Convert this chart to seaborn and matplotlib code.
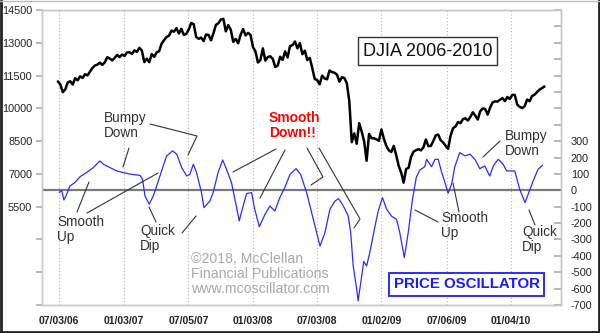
import matplotlib
matplotlib.use("Agg")
import matplotlib.pyplot as plt
import seaborn as sns
import pandas as pd
from matplotlib.lines import Line2D

# ---------------- data ----------------
# DJIA weekly closes, starting 2006-06-30, one value per week
djia_start = "2006-06-30"
djia = [
    11230,
    11090, 10739, 10868, 11185, 11240, 11088, 11381, 11284, 11464, 11392, 11560, 11508, 11679,
    11850, 11960, 12002, 12090, 11986, 12108, 12342, 12280, 12194, 12307, 12445, 12343, 12463,
    # 2007
    12398, 12556, 12565, 12487, 12653, 12580, 12767, 12647, 12114, 12276, 12110, 12481, 12354,
    12560, 12612, 12961, 13120, 13264, 13326, 13556, 13507, 13668, 13424, 13639, 13360, 13408,
    13611, 13907, 13851, 13265, 13182, 13239, 13079, 13379, 13358, 13113, 13442, 13820, 13896,
    14066, 14093, 13522, 13807, 13595, 13042, 13176, 12980, 13371, 13625, 13339, 13450, 13365,
    # 2008
    12800, 12606, 12099, 12207, 12743, 12183, 12348, 12381, 12266, 11894, 11951, 12361, 12216,
    12609, 12325, 12849, 12891, 13058, 12745, 12986, 12480, 12638, 12209, 12307, 11843, 11346,
    11288, 11100, 11496, 11370, 11326, 11734, 11659, 11628, 11543, 11220, 11421, 11388, 11143,
    10325, 8451, 8852, 8378, 9325, 8943, 8497, 7600, 8829, 8635, 8629, 8579, 8515,
    # 2009
    9034, 8599, 8281, 8077, 8001, 8280, 7850, 7366, 7062, 6600, 7224, 7279, 7776,
    8018, 8083, 8131, 8076, 8212, 8575, 8268, 8277, 8500, 8763, 8799, 8539, 8438,
    8280, 8146, 8743, 9093, 9171, 9370, 9321, 9505, 9544, 9441, 9605, 9820, 9665,
    9487, 9864, 9995, 9972, 9712, 10023, 10270, 10318, 10309, 10388, 10471, 10329, 10520,
    # 2010
    10428, 10618, 10609, 10173, 10067, 10012, 10099, 10402, 10325, 10566, 10625, 10742, 10851,
    10927, 10997,
]

osc_dates = [
    "2006-07-04", "2006-07-11", "2006-07-17", "2006-07-25", "2006-08-03", "2006-08-17",
    "2006-09-01", "2006-09-19", "2006-10-08", "2006-10-27", "2006-11-06", "2006-11-25",
    "2006-12-14", "2007-01-01", "2007-01-25", "2007-02-18", "2007-02-25", "2007-03-04",
    "2007-03-16", "2007-03-27", "2007-04-06", "2007-04-20", "2007-05-04", "2007-05-21",
    "2007-06-02", "2007-06-16", "2007-06-30", "2007-07-09", "2007-07-19", "2007-07-28",
    "2007-08-11", "2007-08-18", "2007-09-04", "2007-09-13", "2007-09-27", "2007-10-10",
    "2007-10-21", "2007-11-04", "2007-11-14", "2007-11-26", "2007-12-07", "2007-12-17",
    "2007-12-31", "2008-01-09", "2008-01-22", "2008-02-07", "2008-02-21", "2008-03-06",
    "2008-03-20", "2008-04-03", "2008-04-18", "2008-05-05", "2008-05-18", "2008-06-04",
    "2008-06-23", "2008-07-12", "2008-07-26", "2008-08-09", "2008-08-23", "2008-09-02",
    "2008-09-11", "2008-09-21", "2008-09-30", "2008-10-07", "2008-10-14", "2008-10-24",
    "2008-10-28", "2008-11-07", "2008-11-13", "2008-11-21", "2008-11-30", "2008-12-15",
    "2008-12-24", "2009-01-05", "2009-01-17", "2009-01-31", "2009-02-14", "2009-02-23",
    "2009-03-08", "2009-03-19", "2009-03-31", "2009-04-11", "2009-04-21", "2009-05-05",
    "2009-05-10", "2009-05-24", "2009-06-03", "2009-06-12", "2009-06-22", "2009-07-01",
    "2009-07-10", "2009-07-20", "2009-07-29", "2009-08-12", "2009-08-27", "2009-09-10",
    "2009-09-24", "2009-10-08", "2009-10-22", "2009-11-05", "2009-11-15", "2009-11-29",
    "2009-12-13", "2009-12-23", "2010-01-06", "2010-01-15", "2010-01-29", "2010-02-13",
    "2010-02-22", "2010-03-08", "2010-03-22", "2010-04-04",
]
osc = [
    -14, -2, -59, -25, 26, 47,
    83, 108, 138, 179, 159, 138,
    118, 108, 97, 91, 67, -36,
    -85, -36, 26, 118, 209, 240,
    220, 138, 87, 97, 159, 108,
    -14, -106, -65, -14, 108, 185,
    128, 47, -57, -187, -96, -20,
    -14, -116, -222, -147, -96, -127,
    -45, 16, 97, 132, 97, -14,
    -177, -340, -258, -116, -67, -51,
    -77, -116, -159, -258, -462, -604,
    -675, -525, -434, -462, -380, -217,
    -126, -45, -116, -159, -177, -258,
    -411, -258, -55, 80, 124, 144,
    189, 144, 189, 189, 108, 47,
    -18, 37, 144, 230, 210, 220,
    189, 132, 148, 87, 148, 189,
    159, 118, 118, 118, 6, -75,
    -24, 57, 128, 153,
]

tick_dates = ["2006-07-03", "2007-01-03", "2007-07-05", "2008-01-03",
              "2008-07-03", "2009-01-02", "2009-07-06", "2010-01-04"]
tick_labels = ["07/03/06", "01/03/07", "07/05/07", "01/03/08",
               "07/03/08", "01/02/09", "07/06/09", "01/04/10"]

djia_ticks = [1000, 2500, 4000, 5500, 7000, 8500, 10000, 11500, 13000, 14500]
djia_tick_labels = ["", "", "", "5500", "7000", "8500", "10000", "11500", "13000", "14500"]
osc_ticks = [-700, -600, -500, -400, -300, -200, -100, 0, 100, 200, 300,
             400, 500, 600, 700, 800, 900, 1000, 1100]
osc_tick_labels = ["-700", "-600", "-500", "-400", "-300", "-200", "-100", "0",
                   "100", "200", "300", "", "", "", "", "", "", "", ""]

# ---------------- style ----------------
sns.set_theme(style="white")
plt.rcParams["font.family"] = ["Liberation Sans", "DejaVu Sans"]

W, H = 600, 333
fig = plt.figure(figsize=(6, 3.33), dpi=100)
fig.patch.set_facecolor("white")


def P(px, py):
    return (px / W, 1 - py / H)


ax = fig.add_axes([42 / W, 1 - 305 / H, (561 - 42) / W, (305 - 10) / H])
ax2 = ax.twinx()

djia_df = pd.DataFrame({"date": pd.date_range(djia_start, periods=len(djia), freq="7D"),
                        "djia": djia})
osc_df = pd.DataFrame({"date": pd.to_datetime(osc_dates), "osc": osc})

sns.lineplot(data=djia_df, x="date", y="djia", ax=ax, color="black", lw=1.8, zorder=3)
ax2.axhline(0, color="#7a7a7a", lw=1.6, zorder=1)
sns.lineplot(data=osc_df, x="date", y="osc", ax=ax2, color="#2b2bff", lw=0.9, zorder=3)

ax.set_xlim(pd.Timestamp("2006-05-16"), pd.Timestamp("2010-05-26"))
ax.set_ylim(1000, 14500)
ax2.set_ylim(-700, 1100)

ax.set_xticks(pd.to_datetime(tick_dates))
ax.set_xticklabels(tick_labels, fontsize=7.5, fontweight="bold", color="#222222")
ax.set_yticks(djia_ticks)
ax.set_yticklabels(djia_tick_labels, fontsize=7.8, color="#222222")
ax2.set_yticks(osc_ticks)
ax2.set_yticklabels(osc_tick_labels, fontsize=7.8, color="#222222")

for a in (ax, ax2):
    a.set_xlabel("")
    a.set_ylabel("")
    for s in a.spines.values():
        s.set_color("#c8c8c8")
        s.set_linewidth(1.0)

ax.grid(axis="x", color="#b5b5b5", linestyle=(0, (1, 2)), lw=0.8)
ax.grid(axis="y", visible=False)
ax2.grid(False)
ax.tick_params(axis="x", length=0, pad=8)
ax.tick_params(axis="y", direction="out", length=4, color="#b0b0b0", pad=3)
ax2.tick_params(axis="y", direction="in", length=5, color="#b0b0b0", pad=7)

# ---------------- annotations ----------------
tc = "#333333"
fs = 9.8


def txt(px, py, s, **kw):
    fig.text(*P(px, py), s, va="top", ha="left", linespacing=1.12, **kw)


def line(pts, color=tc):
    xs = [p[0] / W for p in pts]
    ys = [1 - p[1] / H for p in pts]
    fig.add_artist(Line2D(xs, ys, transform=fig.transFigure, color=color, lw=0.8))


txt(104, 111, "Bumpy\nDown", fontsize=fs, color=tc)
line([(150, 124), (197, 136), (188, 155)])
line([(129, 148), (123, 167)])

txt(57, 215, "Smooth\nUp", fontsize=fs, color=tc)
line([(77, 212), (89, 182)])
line([(87, 213), (158, 173)])

txt(140, 224, "Quick\nDip", fontsize=fs, color=tc)
line([(156, 222), (149, 207)])
line([(182, 233), (196, 216)])

txt(269, 111, "Smooth\nDown!!", fontsize=10, color="#ff0000", fontweight="bold")
line([(276, 149), (233, 172)])
line([(285, 150), (260, 198)])
line([(307, 148), (323, 177), (311, 185)])
line([(319, 148), (360, 219), (354, 228)])

txt(441, 211, "Smooth\nUp", fontsize=fs, color=tc)
line([(438, 222), (415, 210)])
line([(459, 212), (453, 183)])

txt(505, 129, "Bumpy\nDown", fontsize=fs, color=tc)
line([(500, 141), (483, 157)])

txt(522, 225, "Quick\nDip", fontsize=fs, color=tc)
line([(535, 225), (529, 210)])

fig.text(*P(427.5, 51), "DJIA 2006-2010", fontsize=13, color="#111111",
         ha="center", va="center",
         bbox=dict(boxstyle="square,pad=0.28", fc="white", ec="#333333", lw=1.0))

fig.text(*P(466.5, 284.5), "PRICE OSCILLATOR", fontsize=10.8, color="#1a1aff",
         fontweight="bold", ha="center", va="center",
         bbox=dict(boxstyle="square,pad=0.3", fc="white", ec="#2b2bff", lw=1.4))

fig.text(*P(191, 252), "\u00a92018, McClellan\nFinancial Publications\nwww.mcoscillator.com",
         fontsize=10.2, color="#a8a8a8", ha="left", va="top", linespacing=1.1)

# figure frame
fig.add_artist(Line2D([0.5 / W, 0.5 / W], [0, 1], transform=fig.transFigure, color="#222222", lw=2))
fig.add_artist(Line2D([1 - 1 / W, 1 - 1 / W], [0, 1], transform=fig.transFigure, color="#222222", lw=2))
fig.add_artist(Line2D([0, 1], [1 / H, 1 / H], transform=fig.transFigure, color="#222222", lw=2))
fig.add_artist(Line2D([0, 1], [1 - 0.5 / H, 1 - 0.5 / H], transform=fig.transFigure, color="#bbbbbb", lw=1))

fig.savefig("out.png", dpi=100)
